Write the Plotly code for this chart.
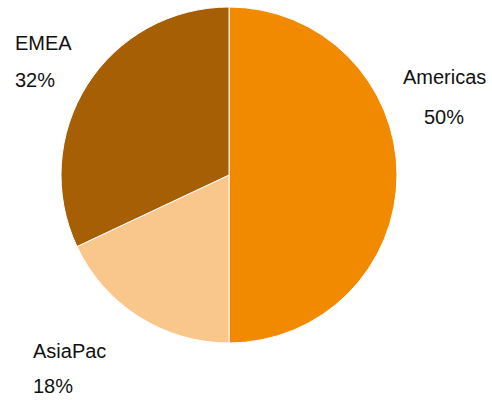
import plotly.graph_objects as go

regions = ["Americas", "AsiaPac", "EMEA"]
shares = [50, 18, 32]
colors = ["#F28A00", "#F9C68C", "#A65F05"]

W, H = 492, 401

fig = go.Figure(go.Pie(
    labels=regions,
    values=shares,
    sort=False,
    direction="clockwise",
    rotation=0,
    marker=dict(colors=colors, line=dict(color="white", width=1)),
    textinfo="none",
    hoverinfo="label+percent",
    domain=dict(x=[61 / W, 397 / W], y=[(H - 343) / H, (H - 7) / H]),
    showlegend=False,
))

total = sum(shares)
# label anchor positions in pixels: (x, y_name, y_pct, anchor)
label_pos = {
    "Americas": (444, 77, 117, "center"),
    "EMEA": (13, 43, 80, "left"),
    "AsiaPac": (31, 351, 386, "left"),
}
font = dict(family="Liberation Sans, Arial, Helvetica, sans-serif", size=20, color="#111111")
annotations = []
for name, val in zip(regions, shares):
    x, yn, yp, anc = label_pos[name]
    pct = f"{round(100 * val / total)}%"
    for txt, yy in ((name, yn), (pct, yp)):
        annotations.append(dict(
            text=txt, x=x / W, y=1 - yy / H, xref="paper", yref="paper",
            xanchor=anc, yanchor="middle", showarrow=False, font=font,
        ))

fig.update_layout(
    width=W, height=H,
    margin=dict(l=0, r=0, t=0, b=0),
    paper_bgcolor="white",
    plot_bgcolor="white",
    annotations=annotations,
)

fig.write_html(
    "out.html",
    config={"displayModeBar": False},
    post_script="document.body.style.margin='0';document.body.style.overflow='hidden';",
)
